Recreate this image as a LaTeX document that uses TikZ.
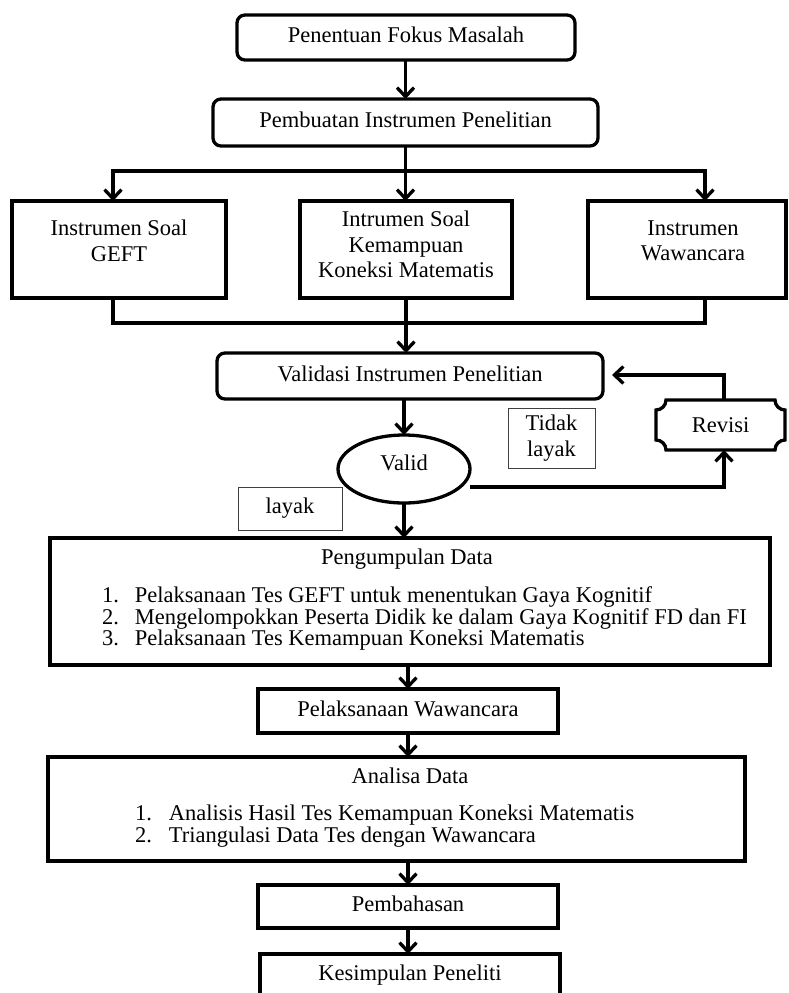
\documentclass[tikz,border=0pt]{standalone}
\usepackage{fontspec}
\setmainfont{Liberation Serif}
\usetikzlibrary{arrows.meta,calc,shapes.geometric}
\begin{document}
\begin{tikzpicture}[x=1pt,y=1pt,
  every node/.style={font=\fontsize{22.5}{25.5}\selectfont, inner sep=0pt, outer sep=0pt},
  thk/.style={line width=3.3pt},
  arr/.style={thk, -{Straight Barb[length=9pt,width=17pt]}},
  rbox/.style={draw, thk, rounded corners=8pt, text height=15.5pt, text depth=4.9pt},
  sbox/.style={draw, thk, text height=15.5pt, text depth=4.9pt},
  tbox/.style={draw=black!75, line width=1pt, align=center},
  lbl/.style={align=center},
  lst/.style={anchor=west, align=left, font=\fontsize{22.5}{21.8}\selectfont},
]
\useasboundingbox (0,0) rectangle (788,-993);
\clip (0,0) rectangle (788,-993);

% top
\node[rbox, minimum width=338pt, minimum height=45pt] (n1) at (406,-37.5) {Penentuan Fokus Masalah};
\node[rbox, minimum width=385pt, minimum height=47pt] (n2) at (405.5,-122.5) {Pembuatan Instrumen Penelitian};
\draw[arr] (n1.south -| n2.south) -- (n2.north);

% instruments
\coordinate (tL) at (113,-171);
\coordinate (tR) at (705,-171);
\node[sbox, minimum width=214pt, minimum height=97pt] (gL) at (119,-249.5) {};
\node[lbl] (gLt) at (119,-241) {Instrumen Soal\\GEFT};
\node[sbox, minimum width=212pt, minimum height=97pt] (gM) at (406,-249.5) {};
\node[lbl] (gMt) at (406,-244.5) {Intrumen Soal\\Kemampuan\\Koneksi Matematis};
\node[sbox, minimum width=198pt, minimum height=97pt] (gR) at (687,-249.5) {};
\node[lbl] (gRt) at (693,-241) {Instrumen\\Wawancara};

\draw[arr] (n2.south |- tL) -| (gL.north -| tL);
\draw[arr] (n2.south |- tL) -| (gR.north -| tR);
\draw[arr] (n2.south) -- (n2.south |- gM.north);

\coordinate (bL) at (113,-323);
\coordinate (bR) at (705,-323);

% validation
\node[rbox, minimum width=386pt, minimum height=46pt] (val) at (410,-376) {Validasi Instrumen Penelitian};
\draw[thk] (gL.south -| bL) |- (gM.south |- bL);
\draw[thk] (gR.south -| bR) |- (gM.south |- bL);
\draw[arr] (gM.south) -- (gM.south |- val.north);

\node[draw, thk, ellipse, minimum width=132pt, minimum height=68pt, text height=15.5pt, text depth=13pt] (ell) at (404,-469) {Valid};
\draw[arr] (ell.north |- val.south) -- (ell.north);

\node[tbox, minimum width=87pt, minimum height=60pt] (td) at (551.5,-438) {Tidak\\layak};
\node[tbox, minimum width=104pt, minimum height=43pt] (ly) at (290,-508.5) {layak};

\node[minimum width=129pt, minimum height=50pt] (rv) at (720.5,-425) {Revisi};
\draw[thk] let \p1=(rv.north west), \p2=(rv.south east) in
  (\x1+10pt,\y1) -- (\x2-10pt,\y1) arc[start angle=180,end angle=270,radius=10pt]
  -- (\x2,\y2+10pt) arc[start angle=90,end angle=180,radius=10pt]
  -- (\x1+10pt,\y2) arc[start angle=0,end angle=90,radius=10pt]
  -- (\x1,\y1-10pt) arc[start angle=270,end angle=360,radius=10pt] -- cycle;
\draw[arr] ($(ell.east)+(0,-18)$) -| ($(rv.south)+(3.5,0)$);
\draw[arr] ($(rv.north)+(3.5,0)$) |- ($(val.east)+(9,1)$);

% data collection
\node[sbox, minimum width=720pt, minimum height=127pt] (pg) at (410,-601.5) {};
\node[anchor=base] (pgt) at (407,-564.4) {Pengumpulan Data};
\node[lst] (pgl) at (102,-618.6) {\makebox[33pt][l]{1.}Pelaksanaan Tes GEFT untuk menentukan Gaya Kognitif\\
\makebox[33pt][l]{2.}Mengelompokkan Peserta Didik ke dalam Gaya Kognitif FD dan FI\\
\makebox[33pt][l]{3.}Pelaksanaan Tes Kemampuan Koneksi Matematis};
\draw[arr] (ell.south) -- (ell.south |- pg.north);

\node[sbox, minimum width=300pt, minimum height=44pt] (pw) at (408,-711) {Pelaksanaan Wawancara};
\draw[arr] (pw.north |- pg.south) -- (pw.north);

\node[sbox, minimum width=697pt, minimum height=104pt] (an) at (396.5,-809) {};
\node[anchor=base] (ant) at (410,-783.4) {Analisa Data};
\node[lst] (anl) at (135,-826.1) {\makebox[34pt][l]{1.}Analisis Hasil Tes Kemampuan Koneksi Matematis\\
\makebox[34pt][l]{2.}Triangulasi Data Tes dengan Wawancara};
\draw[arr] (pw.south) -- (pw.south |- an.north);

\node[sbox, minimum width=300pt, minimum height=43pt] (pb) at (408,-906.5) {Pembahasan};
\draw[arr] (pb.north |- an.south) -- (pb.north);

\node[sbox, minimum width=300pt, minimum height=51pt, text depth=13.7pt] (ks) at (410,-979.5) {Kesimpulan Peneliti};
\draw[arr] (pb.south) -- (pb.south |- ks.north);
\end{tikzpicture}
\end{document}
